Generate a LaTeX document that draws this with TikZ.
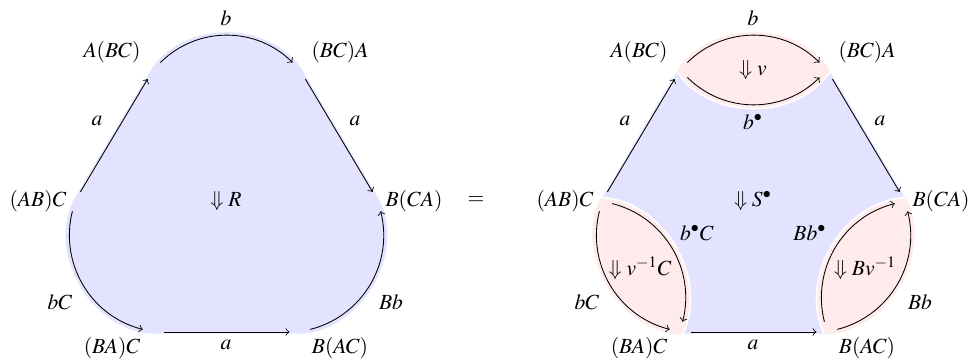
\documentclass[tikz,border=0pt]{standalone}
\usepackage{mathptmx}

\tikzset{
  vert/.style={circle, inner sep=0pt, minimum size=0.33cm},
  cell/.style={fill=blue!11, draw=blue!11, line width=1.6pt, line join=round},
  lens/.style={fill=red!8, draw=red!8, line width=2.4pt, line join=round},
  halo/.style={draw=white, line width=4pt, line join=round},
}

\begin{document}
\begin{tikzpicture}[x=0.0163cm, y=0.0163cm]
  \useasboundingbox (0,0) rectangle (974,362);

  % Centres of the two hexagons
  \def\lx{226}
  \def\rx{753}
  \def\my{161}

  % Left hexagon: corners
  \node[vert] (l1) at (\lx - 151, \my) {};
  \node[vert] (l2) at (\lx - 73, \my + 131) {};
  \node[vert] (l3) at (\lx + 74, \my + 131) {};
  \node[vert] (l4) at (\lx + 152, \my) {};
  \node[vert] (l5) at (\lx + 74, \my - 131) {};
  \node[vert] (l6) at (\lx - 73, \my - 131) {};

  % Right hexagon: corners
  \node[vert] (r1) at (\rx - 151, \my) {};
  \node[vert] (r2) at (\rx - 73, \my + 131) {};
  \node[vert] (r3) at (\rx + 74, \my + 131) {};
  \node[vert] (r4) at (\rx + 152, \my) {};
  \node[vert] (r5) at (\rx + 74, \my - 131) {};
  \node[vert] (r6) at (\rx - 73, \my - 131) {};

  % Shading of the 2-cells
  \path[cell] (l1.center) -- (l2.center) to[bend left=57] (l3.center)
    -- (l4.center) to[bend left=57] (l5.center)
    -- (l6.center) to[bend left=57] (l1.center) -- cycle;
  \path[cell] (r1.center) -- (r2.center) to[bend right=45] (r3.center)
    -- (r4.center) to[bend right=45] (r5.center)
    -- (r6.center) to[bend right=45] (r1.center) -- cycle;
  \path[halo] (r2.center) to[bend left=55] (r3.center) to[bend left=55] (r2.center) -- cycle;
  \path[lens] (r2.center) to[bend left=55] (r3.center) to[bend left=55] (r2.center) -- cycle;
  \path[halo] (r1.center) to[bend right=55] (r6.center) to[bend right=55] (r1.center) -- cycle;
  \path[lens] (r1.center) to[bend right=55] (r6.center) to[bend right=55] (r1.center) -- cycle;
  \path[halo] (r5.center) to[bend left=55] (r4.center) to[bend left=55] (r5.center) -- cycle;
  \path[lens] (r5.center) to[bend left=55] (r4.center) to[bend left=55] (r5.center) -- cycle;

  % Left hexagon: arrows
  \draw[->] (l1) -- (l2);
  \draw[->] (l2) to[bend left=45] (l3);
  \draw[->] (l3) -- (l4);
  \draw[->] (l1) to[bend right=45] (l6);
  \draw[->] (l6) -- (l5);
  \draw[->] (l5) to[bend right=45] (l4);

  % Right hexagon: arrows
  \draw[->] (r1) -- (r2);
  \draw[->] (r2) to[bend left=45] (r3);
  \draw[->] (r2) to[bend right=45] (r3);
  \draw[->] (r3) -- (r4);
  \draw[->] (r1) to[bend right=45] (r6);
  \draw[->] (r1) to[bend left=45] (r6);
  \draw[->] (r6) -- (r5);
  \draw[->] (r5) to[bend right=45] (r4);
  \draw[->] (r5) to[bend left=45] (r4);

  % Left hexagon: objects
  \node (l1t) at (\lx - 188, \my) {$(AB)C$};
  \node (l2t) at (\lx - 114, \my + 149) {$A(BC)$};
  \node (l3t) at (\lx + 114, \my + 149) {$(BC)A$};
  \node (l4t) at (\lx + 188, \my) {$B(CA)$};
  \node (l5t) at (\lx + 114, \my - 147) {$B(AC)$};
  \node (l6t) at (\lx - 114, \my - 147) {$(BA)C$};

  % Left hexagon: labels
  \node (lb) at (\lx, \my + 183) {$b$};
  \node (la1) at (\lx - 129, \my + 80) {$a$};
  \node (la2) at (\lx + 129, \my + 80) {$a$};
  \node (lbc) at (\lx - 166, \my - 101) {$bC$};
  \node (lbb) at (\lx + 165, \my - 101) {$Bb$};
  \node (la3) at (\lx, \my - 144) {$a$};
  \node (lR) at (\lx, \my) {$\Downarrow R$};

  \node (eq) at (476, \my) {$=$};

  % Right hexagon: objects
  \node (r1t) at (\rx - 188, \my) {$(AB)C$};
  \node (r2t) at (\rx - 114, \my + 149) {$A(BC)$};
  \node (r3t) at (\rx + 114, \my + 149) {$(BC)A$};
  \node (r4t) at (\rx + 188, \my) {$B(CA)$};
  \node (r5t) at (\rx + 114, \my - 147) {$B(AC)$};
  \node (r6t) at (\rx - 114, \my - 147) {$(BA)C$};

  % Right hexagon: labels
  \node (rb) at (\rx, \my + 183) {$b$};
  \node (rv) at (\rx, \my + 131) {$\Downarrow v$};
  \node (rbd) at (\rx, \my + 79) {$b^\bullet$};
  \node (ra1) at (\rx - 128, \my + 80) {$a$};
  \node (ra2) at (\rx + 127, \my + 80) {$a$};
  \node (rS) at (\rx, \my) {$\Downarrow S^\bullet$};
  \node (rbdc) at (\rx - 56, \my - 32) {$b^\bullet C$};
  \node (rbbd) at (\rx + 57, \my - 32) {$Bb^\bullet$};
  \node (rvc) at (\rx - 113, \my - 67) {$\Downarrow v^{-1}C$};
  \node (rbv) at (\rx + 112, \my - 67) {$\Downarrow Bv^{-1}$};
  \node (rbc) at (\rx - 166, \my - 101) {$bC$};
  \node (rbb) at (\rx + 167, \my - 101) {$Bb$};
  \node (ra3) at (\rx, \my - 144) {$a$};

\end{tikzpicture}
\end{document}
